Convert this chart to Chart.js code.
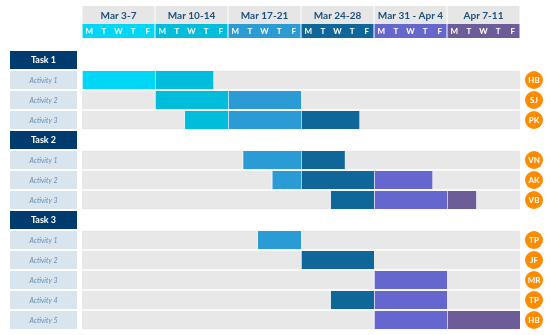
<!DOCTYPE html>
<html>
<head>
<meta charset="utf-8">
<script src="https://cdn.jsdelivr.net/npm/chart.js@4"></script>
<style>
  html, body { margin: 0; padding: 0; background: #fff; }
  canvas { display: block; }
</style>
</head>
<body>
<canvas id="gantt" width="550" height="335"></canvas>
<script>
// rows top to bottom
const rowLabels = ["Task 1", "Activity 1", "Activity 2", "Activity 3",
  "Task 2", "Activity 1", "Activity 2", "Activity 3",
  "Task 3", "Activity 1", "Activity 2", "Activity 3", "Activity 4", "Activity 5"]
// working days counted from Mon Mar 3 (0) to end of Fri Apr 11 (30)
const startDay = [null, 0, 5, 7, null, 11, 13, 17, null, 12, 15, 20, 17, 20]
const endDay = [null, 9, 15, 19, null, 18, 24, 27, null, 15, 20, 25, 25, 30]
const owners = ["", "HB", "SJ", "PK", "", "VN", "AK", "VB", "", "TP", "JF", "MR", "TP", "HB"]

const weekLabels = ["Mar 3-7", "Mar 10-14", "Mar 17-21", "Mar 24-28", "Mar 31 - Apr 4", "Apr 7-11"]
const dayLabels = ["M", "T", "W", "T", "F"]
const weekColors = ["#00d6f6", "#00bddc", "#2a9bd5", "#0f6699", "#6567cf", "#6c5d98"]

const isTask = (label) => label.startsWith("Task")

// one dataset per week so each bar is split and coloured by week
const weekDatasets = weekLabels.map((_, w) => {
  const ws = w * 5
  const we = ws + 5
  return {
    label: weekLabels[w],
    data: rowLabels.map((_, i) => {
      const s = startDay[i]
      const e = endDay[i]
      if (s === null || s >= we || e <= ws) return null
      return [Math.max(s, ws), Math.min(e, we)]
    }),
    backgroundColor: weekColors[w],
    borderColor: "#ffffff",
    borderWidth: { left: 1, right: 0, top: 0, bottom: 0 },
    borderSkipped: false,
    grouped: false,
    barThickness: 18,
    order: 0,
  }
})

const trackDataset = {
  label: "track",
  data: rowLabels.map((l) => (isTask(l) ? null : [0, 30])),
  backgroundColor: "#e8e8e8",
  borderWidth: 0,
  grouped: false,
  barThickness: 18,
  order: 1,
}

const ganttDecor = {
  id: "ganttDecor",
  afterDraw(chart) {
    const { ctx, scales } = chart
    const x = scales.x
    const y = scales.y
    ctx.save()
    ctx.textAlign = "center"
    ctx.textBaseline = "middle"

    // week header
    weekLabels.forEach((lbl, w) => {
      const x0 = x.getPixelForValue(w * 5)
      const x1 = x.getPixelForValue(w * 5 + 5)
      ctx.fillStyle = "#e6e6e6"
      ctx.fillRect(x0 + 0.5, 6, x1 - x0 - 1, 18)
      ctx.fillStyle = weekColors[w]
      ctx.fillRect(x0 + 0.5, 24, x1 - x0 - 1, 14)
      ctx.fillStyle = "#1f4f7d"
      ctx.font = "bold 10px Lato"
      ctx.fillText(lbl, (x0 + x1) / 2, 15.5)
      ctx.fillStyle = "#ffffff"
      ctx.font = "bold 8px Lato"
      dayLabels.forEach((d, k) => {
        const cx = x.getPixelForValue(w * 5 + k + 0.5)
        ctx.fillText(d, cx, 31.5)
      })
    })

    // row labels on the left and owners on the right
    rowLabels.forEach((lbl, i) => {
      const cy = y.getPixelForValue(i)
      if (isTask(lbl)) {
        ctx.fillStyle = "#003b70"
        ctx.fillRect(10, cy - 9, 67, 18)
        ctx.fillStyle = "#ffffff"
        ctx.font = "bold 9px Lato"
        ctx.fillText(lbl, 43.5, cy + 0.5)
      } else {
        ctx.fillStyle = "#d8e5ef"
        ctx.fillRect(10, cy - 9, 67, 18)
        ctx.fillStyle = "#6a8cb0"
        ctx.font = "italic 7px Lato"
        ctx.fillText(lbl, 43.5, cy + 0.5)
      }
      if (owners[i]) {
        ctx.fillStyle = "#ff8c00"
        ctx.beginPath()
        ctx.arc(534, cy, 9, 0, Math.PI * 2)
        ctx.fill()
        ctx.fillStyle = "#ffffff"
        ctx.font = "bold 8px Lato"
        ctx.fillText(owners[i], 534, cy + 0.5)
      }
    })
    ctx.restore()
  },
}

new Chart(document.getElementById("gantt"), {
  type: "bar",
  data: {
    labels: rowLabels,
    datasets: [...weekDatasets, trackDataset],
  },
  options: {
    indexAxis: "y",
    responsive: false,
    animation: false,
    layout: { padding: { left: 82, right: 30, top: 50, bottom: 5 } },
    scales: {
      x: { min: 0, max: 30, display: false },
      y: { display: false },
    },
    plugins: {
      legend: { display: false },
      tooltip: { enabled: false },
    },
  },
  plugins: [ganttDecor],
})
</script>
</body>
</html>
